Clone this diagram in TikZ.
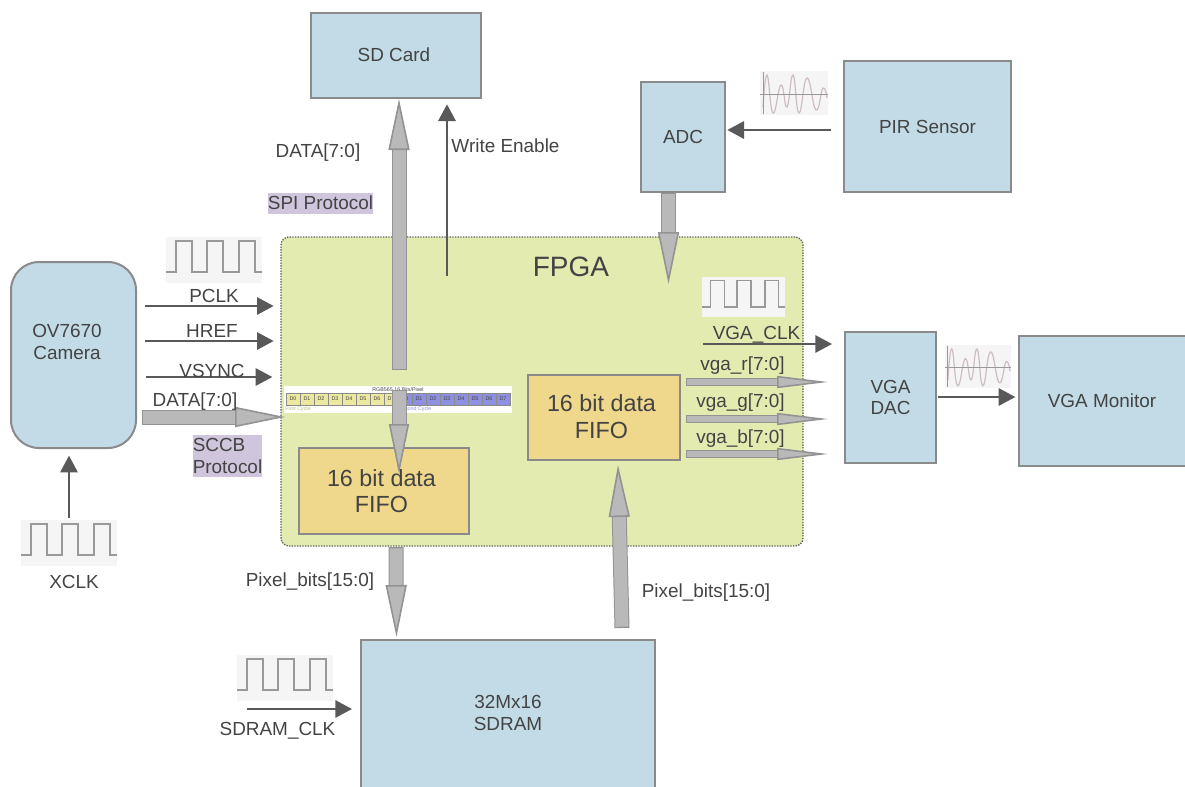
\documentclass[tikz,border=0pt]{standalone}
\usepackage{fontspec}
\setmainfont{Liberation Sans}
\usepackage{tikz}
\usetikzlibrary{positioning,arrows.meta,calc}
\definecolor{rblockfill}{HTML}{C3DBE7}
\definecolor{rblockline}{HTML}{8A8A8A}
\definecolor{rtextcol}{HTML}{434343}
\definecolor{rfpgafill}{HTML}{E3EBB1}
\definecolor{rfifofill}{HTML}{EFD78C}
\definecolor{rsigline}{HTML}{595959}
\definecolor{rbusfill}{HTML}{B9B9B9}
\definecolor{rbusline}{HTML}{939393}
\definecolor{rtagfill}{HTML}{CFC5DD}
\definecolor{rwaveback}{HTML}{F5F5F5}
\definecolor{rwaveline}{HTML}{999999}
\definecolor{rsineline}{HTML}{CDBDC0}
\definecolor{rcellone}{HTML}{ECE89F}
\definecolor{rcelltwo}{HTML}{8F8FE2}
\tikzset{boxsize/.style 2 args={minimum width=#1*0.75pt, minimum height=#2*0.75pt}}
\tikzset{rblock/.style={rectangle, draw=rblockline, line width=1.5pt, fill=rblockfill, inner sep=0pt, align=center, text=rtextcol, font=\fontsize{14.2}{16}\selectfont}}
\tikzset{rfifo/.style={rblock, fill=rfifofill}}
\tikzset{rfifotext/.style={align=center, inner sep=0pt, text=rtextcol, font=\fontsize{17.5}{20}\selectfont}}
\tikzset{rlabel/.style={inner sep=0pt, align=center, text=rtextcol, font=\fontsize{14.2}{16}\selectfont}}
\tikzset{rtag/.style={rlabel, fill=rtagfill}}
\tikzset{rsig/.style={draw=rsigline, line width=1.5pt, -{Triangle[length=12.5pt, width=13pt]}}}
\tikzset{rbus/.style n args={3}{line width=#1*0.75pt, draw=rbusfill, shorten <=1pt,
  preaction={draw=rbusline, line width=#1*0.75pt+1.5pt, -, shorten <=0pt, shorten >=#3*0.75pt},
  -{Triangle[length=#3*0.75pt, width=#2*0.75pt, fill=rbusfill, color=rbusline, line width=1.2pt]}}}
\tikzset{rcell/.style={rectangle, draw=rblockline, line width=0.4pt, inner sep=0pt, minimum width=10.5pt, minimum height=9pt, text=rtextcol, font=\fontsize{4}{4}\selectfont}}
\tikzset{clockwave/.pic={
  \fill[rwaveback] (0,0) rectangle (96,46);
  \draw[rwaveline, line width=1.2pt] (0,35) -- (10,35) -- (10,4) -- (26,4) -- (26,35) -- (41,35) -- (41,4) -- (57,4) -- (57,35) -- (73,35) -- (73,4) -- (89,4) -- (89,35) -- (96,35);
}}
\tikzset{sinewave/.pic={
  \fill[rwaveback] (0,0) rectangle (68,44);
  \draw[rsineline, line width=0.9pt] plot[smooth, tension=0.8] coordinates {(3,36) (7,4) (13,42) (21,14) (27,36) (33,4) (39,42) (47,7) (56,39) (63,17) (67,27)};
  \draw[rwaveline, line width=0.7pt] (3,1) -- (3,43);
  \draw[rwaveline, line width=0.7pt] (0,23) -- (68,23);
}}

\begin{document}
\begin{tikzpicture}[x=0.75pt, y=-0.75pt]
  \useasboundingbox (0,0) rectangle (1185,786);

  \node[rblock, boxsize={170}{85}] (sdcard) at (396,55.5) {};
  \node[rblock, boxsize={84}{110}] (adc) at (683,137) {ADC};
  \node[rblock, boxsize={167}{131}] (pir) at (927.5,126.5) {PIR Sensor};
  \node[rblock, boxsize={125}{186}, rounded corners=21pt] (camera) at (73.5,355) {};
  \node[rblock, boxsize={91}{131}] (vgadac) at (890.5,397.5) {VGA\\DAC};
  \node[rblock, boxsize={172}{130}] (monitor) at (1105,401) {};
  \node[rblock, boxsize={294}{152}] (sdram) at (508,716) {};

  \node[rlabel] (sdcardtext) at (394,55) {SD Card};
  \node[rlabel] (cameratext) at (67,342) {OV7670\\Camera};
  \node[rlabel] (monitortext) at (1102,401) {VGA Monitor};
  \node[rlabel] (sdramtext) at (508,713) {32Mx16\\SDRAM};

  \node[draw=rsigline, densely dotted, line width=1pt, fill=rfpgafill, rounded corners=6pt, boxsize={522}{309}, inner sep=0pt] (fpga) at (542,391.5) {};
  \node[rlabel, font=\fontsize{21}{24}\selectfont] (fpgatext) at (571,267) {FPGA};

  % pixel format strip
  \node[fill=white, boxsize={228}{27}, inner sep=0pt] (strip) at (398,399.5) {};
  \node[inner sep=0pt, text=rtextcol, font=\fontsize{4}{4}\selectfont] (striptitle) at (398,390) {RGB565 16 Bits/Pixel};
  \foreach \i in {0,...,7} {
    \node[rcell, fill=rcellone] (first\i) at (293+14*\i,399) {D\i};
    \node[rcell, fill=rcelltwo] (second\i) at (405+14*\i,399) {D\i};
  }
  \node[inner sep=0pt, text=rcellone!80!black, font=\fontsize{4}{4}\selectfont] (firstcycle) at (298,409) {First Cycle};
  \node[inner sep=0pt, text=rcelltwo, font=\fontsize{4}{4}\selectfont] (secondcycle) at (415,409) {Second Cycle};

  \node[rfifo, boxsize={170}{86}] (fifoa) at (384,491) {};
  \node[rfifo, boxsize={152}{85}] (fifob) at (604,417.5) {};

  \pic at (166,237) {clockwave};
  \pic[scale=0.86] at (702,277) {clockwave};
  \pic at (21,520) {clockwave};
  \pic at (237,655) {clockwave};
  \pic at (760,71) {sinewave};
  \pic[scale=0.97] at (945,345) {sinewave};

  \coordinate (sdbusout) at (399,370);
  \coordinate (fifobusout) at (399,390);
  \coordinate (fifobustip) at (399,474);
  \coordinate (weout) at (447,276);
  \coordinate (adcbusout) at (668.5,193);
  \coordinate (adcbustip) at (668.5,284);
  \coordinate (pirout) at (831,130);
  \coordinate (pclkout) at (145,306);
  \coordinate (hrefout) at (145,341);
  \coordinate (vsyncout) at (146,377);
  \coordinate (dataout) at (142,417);
  \coordinate (datatip) at (285,417);
  \coordinate (xclkout) at (69,518);
  \coordinate (vgaclkout) at (703,344);
  \coordinate (sdramclkout) at (247,709);
  \coordinate (rout) at (686,382);
  \coordinate (gout) at (686,419);
  \coordinate (bout) at (686,454);
  \coordinate (dacout) at (938,397);
  \coordinate (fifoaout) at (396,547);
  \coordinate (fifoatip) at (396.5,637);
  \coordinate (sdramout) at (622,628);
  \coordinate (fifobtip) at (618,465);

  \draw[rbus={13}{21}{51}] (sdbusout) -- (sdbusout |- sdcard.south);
  \draw[rbus={13}{20}{50}] (fifobusout) -- (fifobustip);
  \draw[rbus={13}{21}{52}] (adcbusout) -- (adcbustip);
  \draw[rbus={13}{20}{50}] (dataout) -- (datatip);
  \draw[rbus={13}{21}{52}] (fifoaout) -- (fifoatip);
  \draw[rbus={13}{21}{52}] (sdramout) -- (fifobtip);
  \draw[rbus={6}{12}{51}] (rout) -- (rout -| vgadac.west) [shorten >=12pt];
  \draw[rbus={6}{12}{51}] (gout) -- (gout -| vgadac.west) [shorten >=12pt];
  \draw[rbus={6}{12}{51}] (bout) -- (bout -| vgadac.west) [shorten >=12pt];

  \draw[rsig] (weout) -- (weout |- sdcard.south) [shorten >=4pt];
  \draw[rsig] (pirout) -- (pirout -| adc.east) [shorten >=1pt];
  \draw[rsig] (pclkout) -- (pclkout -| fpga.west) [shorten >=5pt];
  \draw[rsig] (hrefout) -- (hrefout -| fpga.west) [shorten >=5pt];
  \draw[rsig] (vsyncout) -- (vsyncout -| fpga.west) [shorten >=6pt];
  \draw[rsig] (xclkout) -- (xclkout |- camera.south) [shorten >=5pt];
  \draw[rsig] (vgaclkout) -- (vgaclkout -| vgadac.west) [shorten >=9pt];
  \draw[rsig] (sdramclkout) -- (sdramclkout -| sdram.west) [shorten >=6pt];
  \draw[rsig] (dacout) -- (dacout -| monitor.west) [shorten >=2pt];

  \node[rfifotext] (fifoatext) at (381.5,491) {16 bit data\\FIFO};
  \node[rfifotext] (fifobtext) at (601.5,416.5) {16 bit data\\FIFO};

  \node[rlabel] (sddata) at (318,153) {DATA[7:0]};
  \node[rlabel] (writeen) at (505.5,146) {Write Enable};
  \node[rtag, boxsize={105}{21}] (spitag) at (320.5,203) {SPI Protocol};
  \node[rtag, boxsize={69}{42}, align=left] (sccbtag) at (227.5,456) {SCCB\\Protocol};
  \node[rlabel] (pclktext) at (214,296) {PCLK};
  \node[rlabel] (hreftext) at (212,331) {HREF};
  \node[rlabel] (vsynctext) at (212,371) {VSYNC};
  \node[rlabel] (datatext) at (195,402) {DATA[7:0]};
  \node[rlabel] (xclktext) at (74,582) {XCLK};
  \node[rlabel] (pixeltexta) at (310,582) {Pixel\_bits[15:0]};
  \node[rlabel] (pixeltextb) at (706,593) {Pixel\_bits[15:0]};
  \node[rlabel] (sdramclktext) at (277.5,731) {SDRAM\_CLK};
  \node[rlabel] (vgaclktext) at (756.5,335) {VGA\_CLK};
  \node[rlabel] (rtext) at (742.5,366) {vga\_r[7:0]};
  \node[rlabel] (gtext) at (740.5,403) {vga\_g[7:0]};
  \node[rlabel] (btext) at (740.5,439) {vga\_b[7:0]};
\end{tikzpicture}
\end{document}
